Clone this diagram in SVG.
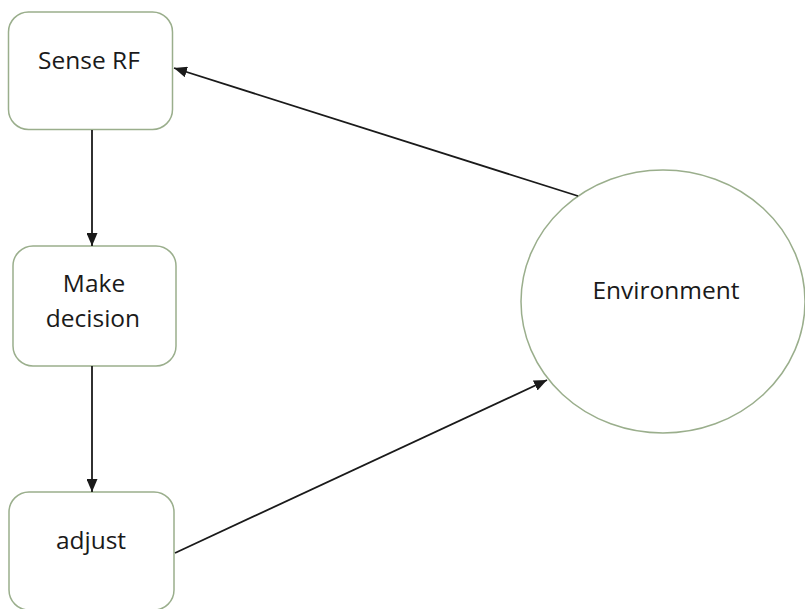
<svg xmlns="http://www.w3.org/2000/svg" width="805" height="609" viewBox="0 0 805 609">
<style>
.box{fill:#ffffff;stroke:#9aae8c;stroke-width:1.5}
.lbl{font-family:"Open Sans","Liberation Sans",sans-serif;font-size:24.5px;fill:#1a1a1a;text-anchor:middle}
.edge{stroke:#1a1a1a;stroke-width:1.8;fill:none;marker-end:url(#arr)}
</style>
<defs>
<marker id="arr" viewBox="0 0 13 11" refX="13" refY="5.5" markerWidth="13" markerHeight="11" markerUnits="userSpaceOnUse" orient="auto">
<path d="M0,0 L13,5.5 L0,11 z" fill="#1a1a1a"/>
</marker>
</defs>
<rect width="805" height="609" fill="#ffffff"/>
<g id="sense">
<rect class="box" x="8.5" y="12" width="164" height="117.5" rx="20"/>
<text class="lbl" x="89" y="69">Sense RF</text>
</g>
<g id="decision">
<rect class="box" x="13" y="246" width="163" height="120" rx="20"/>
<text class="lbl" x="94" y="292">Make</text>
<text class="lbl" x="93" y="327">decision</text>
</g>
<g id="adjust">
<rect class="box" x="9" y="492" width="165" height="118" rx="20"/>
<text class="lbl" x="91" y="549">adjust</text>
</g>
<g id="environment">
<ellipse class="box" cx="663" cy="301.5" rx="142" ry="131.5"/>
<text class="lbl" x="666" y="299">Environment</text>
</g>
<g id="connectors">
<line class="edge" x1="92" y1="130" x2="92" y2="246"/>
<line class="edge" x1="92" y1="366" x2="92" y2="492"/>
<line class="edge" x1="578" y1="196" x2="174" y2="68"/>
<line class="edge" x1="175" y1="553" x2="547" y2="380"/>
</g>
</svg>
